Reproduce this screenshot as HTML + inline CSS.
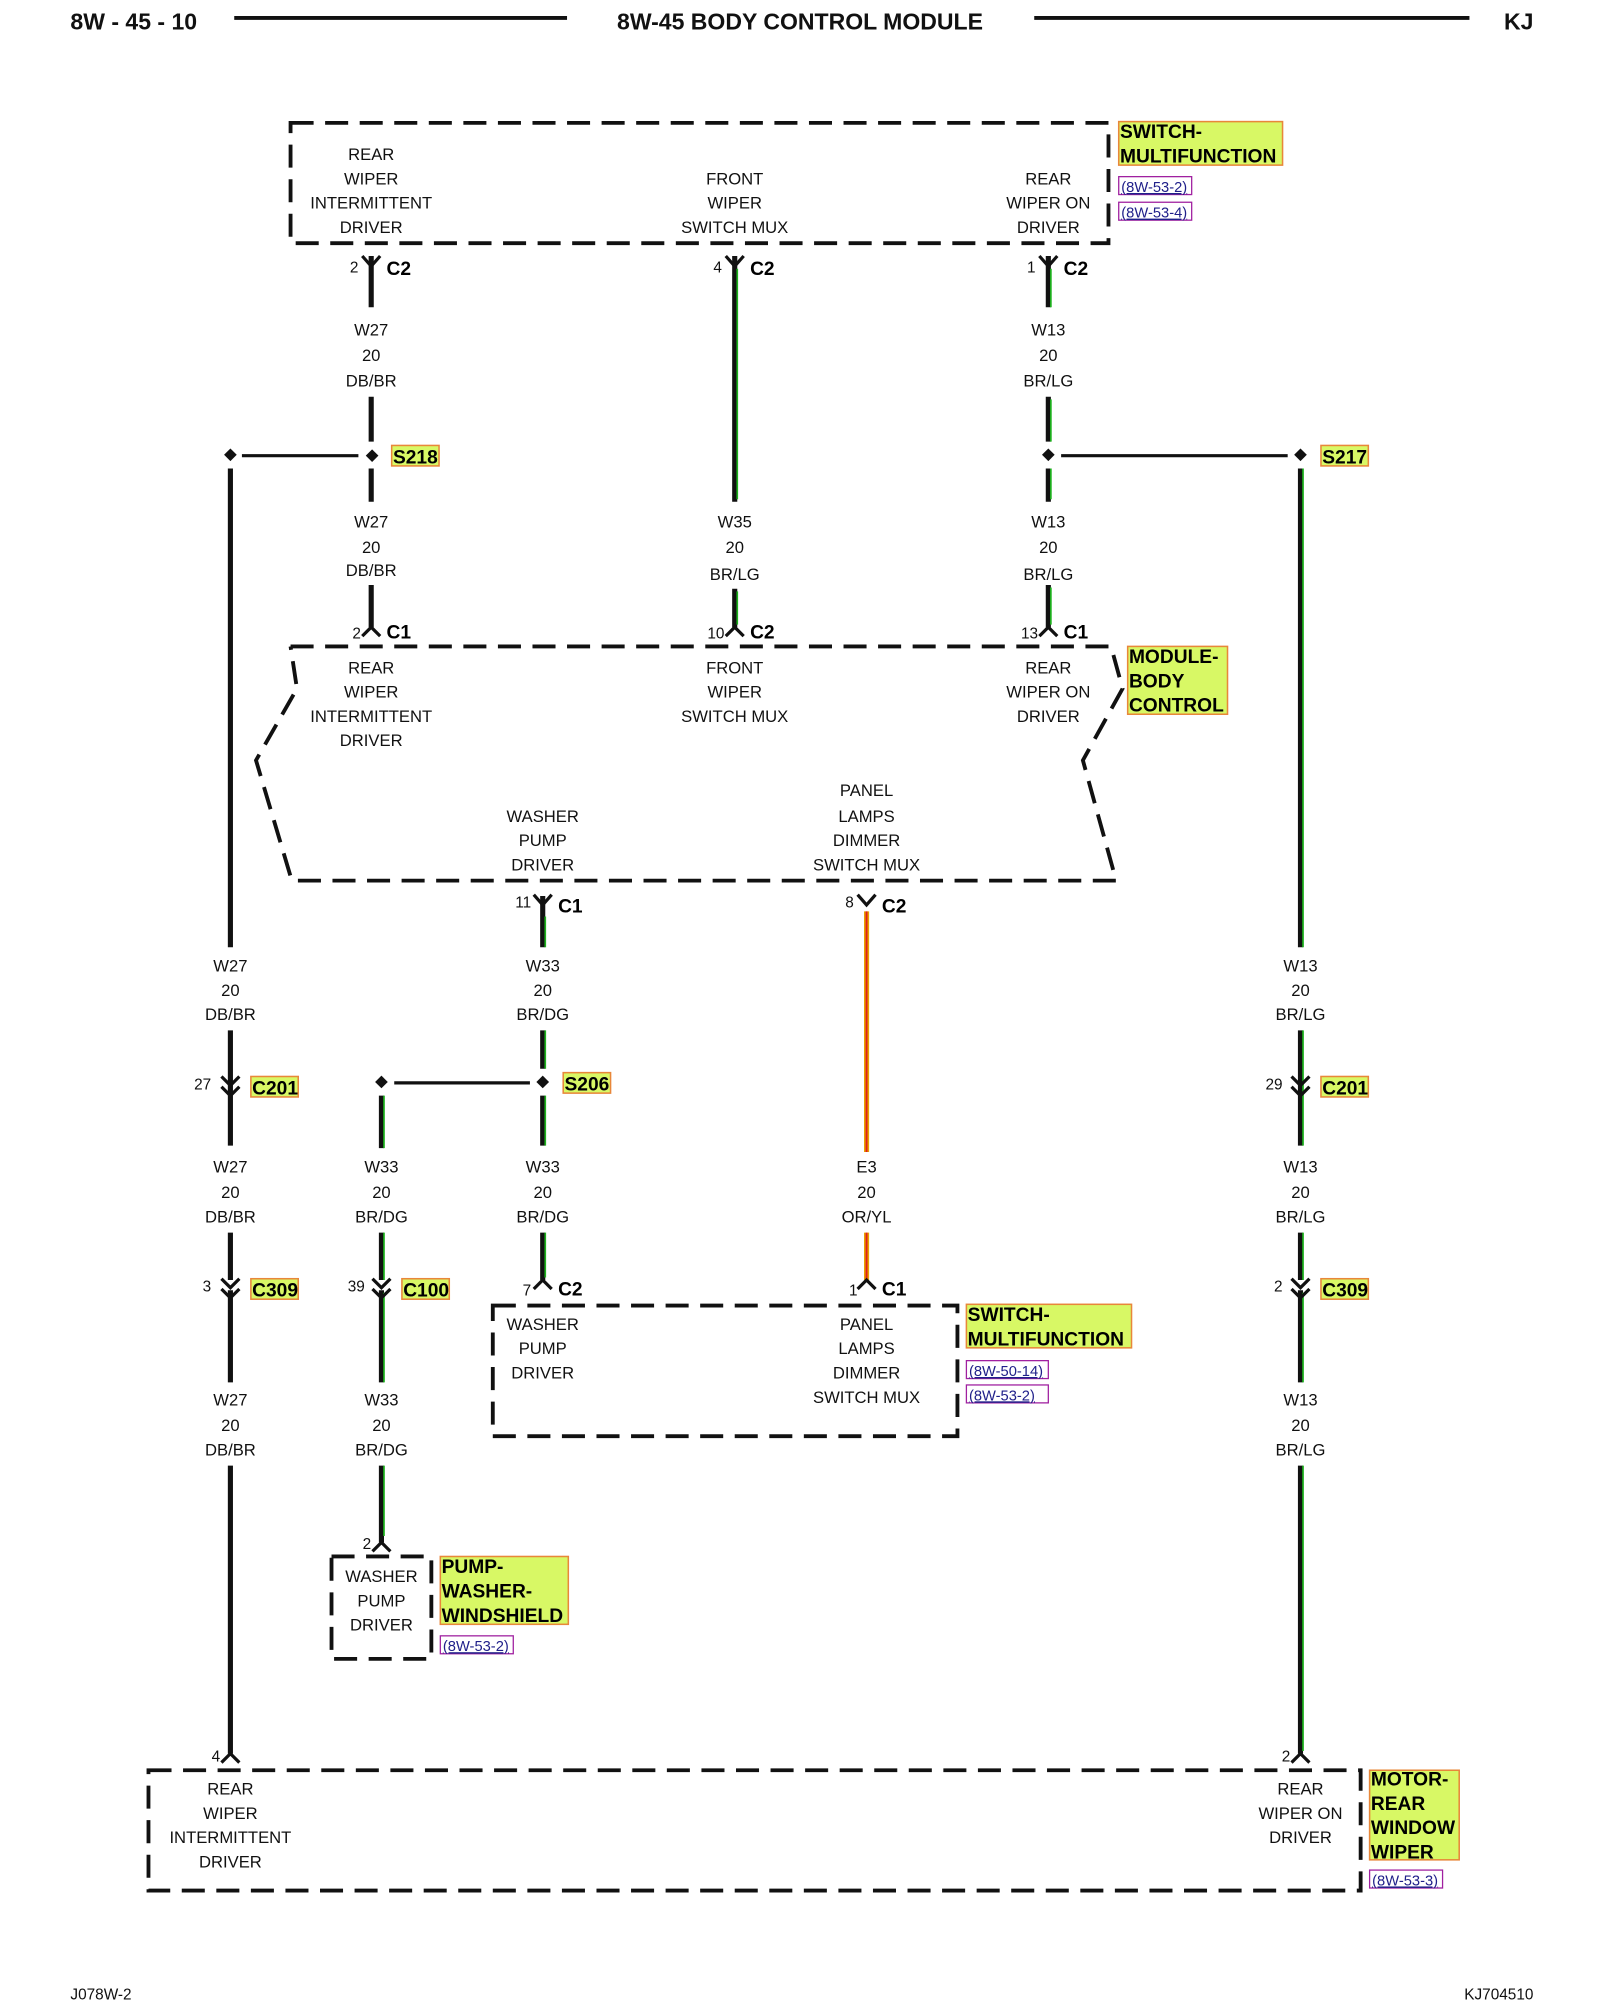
<!DOCTYPE html>
<html><head><meta charset="utf-8"><style>
html,body{margin:0;padding:0;background:#fff}
svg{display:block}
text{font-family:"Liberation Sans",sans-serif}
.t{font-size:13px;text-anchor:middle;fill:#111}
.n{font-size:12px;text-anchor:end;fill:#111}
.c{font-size:15px;font-weight:bold;fill:#000}
.b{fill:none;stroke:#111;stroke-width:3;stroke-dasharray:18,9}
.w{stroke:#111;stroke-width:4;fill:none}
.y{fill:#d8f865;stroke:#e8873a;stroke-width:1.2}
.yl{font-size:15px;font-weight:bold;fill:#000}
.r{fill:none;stroke:#a020a0;stroke-width:1}
.rt{font-size:11.5px;fill:#20208a;text-decoration:underline}
.h{font-size:18px;font-weight:bold;fill:#111}
</style></head><body>
<svg width="1600" height="2000" viewBox="0 0 1250 1562.5" xmlns="http://www.w3.org/2000/svg">
<text class="h" x="55" y="23">8W - 45 - 10</text>
<line x1="183" y1="14" x2="443" y2="14" stroke="#111" stroke-width="3"/>
<text class="h" x="625" y="23" text-anchor="middle">8W-45 BODY CONTROL MODULE</text>
<line x1="808" y1="14" x2="1148" y2="14" stroke="#111" stroke-width="3"/>
<text class="h" x="1198" y="23" text-anchor="end">KJ</text>
<text x="55" y="1562" font-size="12" fill="#111">J078W-2</text>
<text x="1198" y="1562" font-size="12" fill="#111" text-anchor="end">KJ704510</text>

<rect class="b" x="227" y="96" width="639" height="94"/>
<polyline class="b" points="227,505 868,505 877,538 846,594 872,688 228,688 200,594 232,538 227,505"/>
<rect class="b" x="385" y="1020" width="363" height="102"/>
<rect class="b" x="259" y="1216" width="78" height="80"/>
<rect class="b" x="116" y="1383" width="947" height="94"/>

<g class="w">
<path d="M290 200V240M290 310V345M290 366V392M290 457V490M180 366V740M180 805V895M180 963V1000M180 1008V1080M180 1145V1370"/>
<path d="M574 200V392M574 460V490"/>
<path d="M819 200V240M819 310V345M819 366V392M819 457V490"/>
<path d="M1016 366V740M1016 805V895M1016 963V1000M1016 1008V1080M1016 1145V1370"/>
<path d="M424 700V740M424 805V835M424 856V895M424 963V1000"/>
<path d="M298 856V897M298 963V1000M298 1008V1080M298 1145V1205"/>
</g>
<g stroke="#111" stroke-width="2.5" fill="none">
<path d="M189 356H280M829 356H1006M308 846H414"/>
</g>
<g stroke-width="1.3" fill="none">
<path stroke="#1db31d" d="M576 210V390M576 462V488M821 210V240M821 312V345M821 366V390M821 459V488M1018 366V740M1018 805V895M1018 963V1000M1018 1010V1080M1018 1145V1368"/>
<path stroke="#1db31d" d="M426 716V740M426 805V835M426 856V895M426 963V998M300 856V897M300 963V1000M300 1010V1080M300 1145V1200"/>
</g>
<path d="M677 712V900M677 963V1000" stroke="#e8a000" stroke-width="4" fill="none"/>
<path d="M677 712V900M677 963V1000" stroke="#e0201a" stroke-width="1.5" fill="none"/>

<g fill="#111">
<rect x="176" y="352" width="7" height="7" transform="rotate(45 180 356)"/>
<rect x="287" y="352" width="7" height="7" transform="rotate(45 290 356)"/>
<rect x="815" y="352" width="7" height="7" transform="rotate(45 819 356)"/>
<rect x="1012" y="352" width="7" height="7" transform="rotate(45 1016 356)"/>
<rect x="294" y="842" width="7" height="7" transform="rotate(45 298 846)"/>
<rect x="420" y="842" width="7" height="7" transform="rotate(45 424 846)"/>
</g>

<g stroke="#111" stroke-width="2.5" fill="none">
<path d="M283 200L290 208L297 200M290 208V215"/>
<path d="M567 200L574 208L581 200"/>
<path d="M812 200L819 208L826 200"/>
<path d="M417 699L424 707L431 699"/>
<path d="M670 699L677 707L684 699"/>
<path d="M283 497L290 490L297 497"/>
<path d="M567 497L574 490L581 497"/>
<path d="M812 497L819 490L826 497"/>
<path d="M417 1007L424 1000L431 1007"/>
<path d="M670 1007L677 1000L684 1007"/>
<path d="M291 1212L298 1205L305 1212"/>
<path d="M173 1377L180 1370L187 1377"/>
<path d="M1009 1377L1016 1370L1023 1377"/>
<path d="M173 841L180 848L187 841M173 849L180 856L187 849"/>
<path d="M1009 841L1016 848L1023 841M1009 849L1016 856L1023 849"/>
<path d="M173 999L180 1006L187 999M173 1007L180 1014L187 1007"/>
<path d="M291 999L298 1006L305 999M291 1007L298 1014L305 1007"/>
<path d="M1009 999L1016 1006L1023 999M1009 1007L1016 1014L1023 1007"/>
</g>

<text class="n" x="280" y="213">2</text><text class="c" x="302" y="215">C2</text>
<text class="n" x="564" y="213">4</text><text class="c" x="586" y="215">C2</text>
<text class="n" x="809" y="213">1</text><text class="c" x="831" y="215">C2</text>
<text class="n" x="282" y="499">2</text><text class="c" x="302" y="499">C1</text>
<text class="n" x="566" y="499">10</text><text class="c" x="586" y="499">C2</text>
<text class="n" x="811" y="499">13</text><text class="c" x="831" y="499">C1</text>
<text class="n" x="415" y="709">11</text><text class="c" x="436" y="713">C1</text>
<text class="n" x="667" y="709">8</text><text class="c" x="689" y="713">C2</text>
<text class="n" x="165" y="851">27</text>
<text class="n" x="1002" y="851">29</text>
<text class="n" x="165" y="1009">3</text>
<text class="n" x="285" y="1009">39</text>
<text class="n" x="1002" y="1009">2</text>
<text class="n" x="415" y="1012">7</text><text class="c" x="436" y="1012">C2</text>
<text class="n" x="670" y="1012">1</text><text class="c" x="689" y="1012">C1</text>
<text class="n" x="290" y="1210">2</text>
<text class="n" x="172" y="1376">4</text>
<text class="n" x="1008" y="1376">2</text>

<g>
<rect class="y" x="306" y="348" width="37" height="16"/><text class="yl" x="307" y="362">S218</text>
<rect class="y" x="1032" y="348" width="37" height="16"/><text class="yl" x="1033" y="362">S217</text>
<rect class="y" x="440" y="838" width="37" height="16"/><text class="yl" x="441" y="852">S206</text>
<rect class="y" x="196" y="841" width="37" height="16"/><text class="yl" x="197" y="855">C201</text>
<rect class="y" x="1032" y="841" width="37" height="16"/><text class="yl" x="1033" y="855">C201</text>
<rect class="y" x="196" y="999" width="37" height="16"/><text class="yl" x="197" y="1013">C309</text>
<rect class="y" x="314" y="999" width="37" height="16"/><text class="yl" x="315" y="1013">C100</text>
<rect class="y" x="1032" y="999" width="37" height="16"/><text class="yl" x="1033" y="1013">C309</text>

<rect class="y" x="874" y="95" width="128" height="34"/>
<text class="yl" x="875" y="108">SWITCH-</text><text class="yl" x="875" y="127">MULTIFUNCTION</text>
<rect class="r" x="874" y="138" width="57" height="14"/><text class="rt" x="876" y="150">(8W-53-2)</text>
<rect class="r" x="874" y="158" width="57" height="14"/><text class="rt" x="876" y="170">(8W-53-4)</text>

<rect class="y" x="881" y="505" width="78" height="53"/>
<text class="yl" x="882" y="518">MODULE-</text><text class="yl" x="882" y="537">BODY</text><text class="yl" x="882" y="556">CONTROL</text>

<rect class="y" x="755" y="1019" width="129" height="34"/>
<text class="yl" x="756" y="1032">SWITCH-</text><text class="yl" x="756" y="1051">MULTIFUNCTION</text>
<rect class="r" x="755" y="1063" width="64" height="14"/><text class="rt" x="757" y="1075">(8W-50-14)</text>
<rect class="r" x="755" y="1082" width="64" height="14"/><text class="rt" x="757" y="1094">(8W-53-2)</text>

<rect class="y" x="344" y="1216" width="100" height="53"/>
<text class="yl" x="345" y="1229">PUMP-</text><text class="yl" x="345" y="1248">WASHER-</text><text class="yl" x="345" y="1267">WINDSHIELD</text>
<rect class="r" x="344" y="1278" width="57" height="14"/><text class="rt" x="346" y="1290">(8W-53-2)</text>

<rect class="y" x="1070" y="1383" width="70" height="70"/>
<text class="yl" x="1071" y="1395">MOTOR-</text><text class="yl" x="1071" y="1414">REAR</text><text class="yl" x="1071" y="1433">WINDOW</text><text class="yl" x="1071" y="1452">WIPER</text>
<rect class="r" x="1070" y="1461" width="57" height="14"/><text class="rt" x="1072" y="1473">(8W-53-3)</text>
</g>

<g class="t">
<text x="290" y="125">REAR</text><text x="290" y="144">WIPER</text><text x="290" y="163">INTERMITTENT</text><text x="290" y="182">DRIVER</text>
<text x="574" y="144">FRONT</text><text x="574" y="163">WIPER</text><text x="574" y="182">SWITCH MUX</text>
<text x="819" y="144">REAR</text><text x="819" y="163">WIPER ON</text><text x="819" y="182">DRIVER</text>

<text x="290" y="526">REAR</text><text x="290" y="545">WIPER</text><text x="290" y="564">INTERMITTENT</text><text x="290" y="583">DRIVER</text>
<text x="574" y="526">FRONT</text><text x="574" y="545">WIPER</text><text x="574" y="564">SWITCH MUX</text>
<text x="819" y="526">REAR</text><text x="819" y="545">WIPER ON</text><text x="819" y="564">DRIVER</text>
<text x="424" y="642">WASHER</text><text x="424" y="661">PUMP</text><text x="424" y="680">DRIVER</text>
<text x="677" y="622">PANEL</text><text x="677" y="642">LAMPS</text><text x="677" y="661">DIMMER</text><text x="677" y="680">SWITCH MUX</text>

<text x="424" y="1039">WASHER</text><text x="424" y="1058">PUMP</text><text x="424" y="1077">DRIVER</text>
<text x="677" y="1039">PANEL</text><text x="677" y="1058">LAMPS</text><text x="677" y="1077">DIMMER</text><text x="677" y="1096">SWITCH MUX</text>
<text x="298" y="1236">WASHER</text><text x="298" y="1255">PUMP</text><text x="298" y="1274">DRIVER</text>
<text x="180" y="1402">REAR</text><text x="180" y="1421">WIPER</text><text x="180" y="1440">INTERMITTENT</text><text x="180" y="1459">DRIVER</text>
<text x="1016" y="1402">REAR</text><text x="1016" y="1421">WIPER ON</text><text x="1016" y="1440">DRIVER</text>

<text x="290" y="262">W27</text><text x="290" y="282">20</text><text x="290" y="302">DB/BR</text>
<text x="819" y="262">W13</text><text x="819" y="282">20</text><text x="819" y="302">BR/LG</text>
<text x="290" y="412">W27</text><text x="290" y="432">20</text><text x="290" y="450">DB/BR</text>
<text x="574" y="412">W35</text><text x="574" y="432">20</text><text x="574" y="453">BR/LG</text>
<text x="819" y="412">W13</text><text x="819" y="432">20</text><text x="819" y="453">BR/LG</text>

<text x="180" y="759">W27</text><text x="180" y="778">20</text><text x="180" y="797">DB/BR</text>
<text x="424" y="759">W33</text><text x="424" y="778">20</text><text x="424" y="797">BR/DG</text>
<text x="1016" y="759">W13</text><text x="1016" y="778">20</text><text x="1016" y="797">BR/LG</text>

<text x="180" y="916">W27</text><text x="180" y="936">20</text><text x="180" y="955">DB/BR</text>
<text x="298" y="916">W33</text><text x="298" y="936">20</text><text x="298" y="955">BR/DG</text>
<text x="424" y="916">W33</text><text x="424" y="936">20</text><text x="424" y="955">BR/DG</text>
<text x="677" y="916">E3</text><text x="677" y="936">20</text><text x="677" y="955">OR/YL</text>
<text x="1016" y="916">W13</text><text x="1016" y="936">20</text><text x="1016" y="955">BR/LG</text>

<text x="180" y="1098">W27</text><text x="180" y="1118">20</text><text x="180" y="1137">DB/BR</text>
<text x="298" y="1098">W33</text><text x="298" y="1118">20</text><text x="298" y="1137">BR/DG</text>
<text x="1016" y="1098">W13</text><text x="1016" y="1118">20</text><text x="1016" y="1137">BR/LG</text>
</g>
</svg>
</body></html>
